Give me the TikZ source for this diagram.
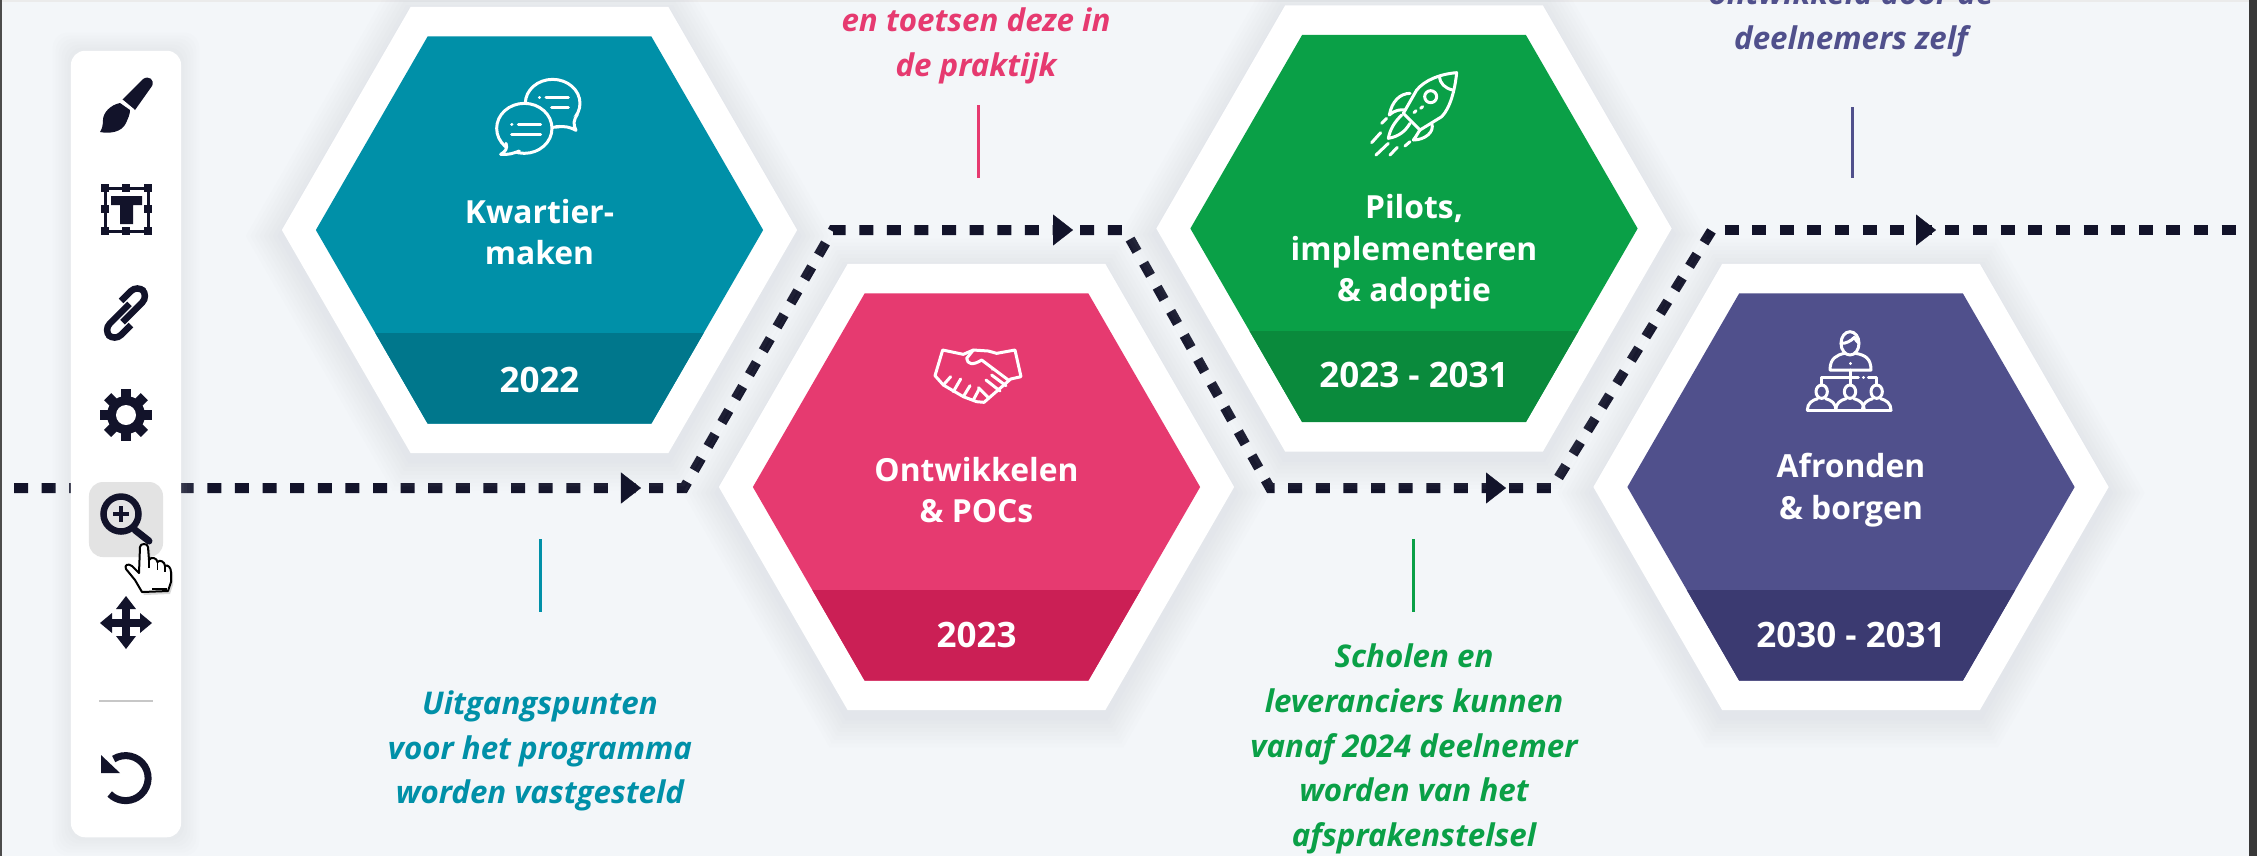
\documentclass[tikz,border=0pt]{standalone}
\usepackage{fontspec}
\setmainfont{Open Sans}
\usetikzlibrary{positioning, shapes.geometric, arrows.meta, shadows}

\definecolor{pagebg}{HTML}{F3F6F9}
\definecolor{glowgray}{HTML}{C4C9D1}
\definecolor{inkdark}{HTML}{12132A}
\definecolor{tealmain}{HTML}{0090A8}
\definecolor{tealband}{HTML}{00778C}
\definecolor{pinkmain}{HTML}{E63A70}
\definecolor{pinkband}{HTML}{CB1F55}
\definecolor{greenmain}{HTML}{0AA047}
\definecolor{greenband}{HTML}{0A8A3C}
\definecolor{purplemain}{HTML}{50508C}
\definecolor{purpleband}{HTML}{3B3A71}

\tikzset{
    hexbase/.style={regular polygon, regular polygon sides=6, inner sep=0pt, outer sep=0pt},
    hexouter/.style={hexbase, minimum size=5.15cm, fill=white},
    hexglow/.style={hexbase, fill=glowgray, fill opacity=0.035},
    hexinner/.style 2 args={hexbase, minimum size=4.47cm, fill=#1,
        path picture={\fill[#2] (path picture bounding box.south west) rectangle ([yshift=0.91cm]path picture bounding box.south east);}},
    hexlabel/.style={text=white, align=center, font=\bfseries\fontsize{9.05}{11.8}\selectfont},
    yearlabel/.style={text=white, font=\bfseries\fontsize{9.95}{11.8}\selectfont},
    caption/.style={text=#1, align=center, font=\bfseries\itshape\fontsize{8.9}{12.7}\selectfont},
    tickline/.style={draw=#1, line width=0.03cm},
    timeline/.style={draw=inkdark, line width=0.1cm, dash pattern=on 0.14cm off 0.136cm},
    tiphead/.style={-{Triangle[length=0.2cm,width=0.31cm]}, draw=inkdark, fill=inkdark, line width=0.1pt},
    toolicon/.style={fill=inkdark, draw=none},
    toolline/.style={draw=inkdark, line width=0.065cm},
    iconline/.style={draw=white, line width=0.03cm, line cap=round, line join=round},
}

\newcommand{\hexshadow}[2]{
    \foreach \s in {1,...,8} {
        \node[hexglow, minimum size={5.15cm+\s*0.09cm}] (glow#1\s) at ([yshift=-0.06cm]#2) {};
    }
}

\begin{document}
\begin{tikzpicture}[x=0.01cm, y=-0.01cm]
    \useasboundingbox (0,0) rectangle (2257,856);
    \clip (0,0) rectangle (2257,856);
    \fill[pagebg] (0,0) rectangle (2257,856);
    \fill[black!70] (0,0) rectangle (2,856);
    \fill[black!78] (2249,0) rectangle (2257,856);
    \fill[black!8] (2,0) rectangle (2249,2);

    \coordinate (lineA) at (14,488);
    \coordinate (lineB) at (684,488);
    \coordinate (lineC) at (833,230);
    \coordinate (lineD) at (1125,230);
    \coordinate (lineE) at (1270,488);
    \coordinate (lineF) at (1552,488);
    \coordinate (lineG) at (1712,230);
    \coordinate (lineH) at (2249,230);
    \draw[timeline] (lineA) -- (lineB) -- (lineC) -- (lineD) -- (lineE) -- (lineF) -- (lineG);
    \draw[timeline, dash phase=0.151cm] (lineG) -- (lineH);

    \hexshadow{Kwartier}{539.5,230}
    \hexshadow{Ontwikkelen}{976.5,487}
    \hexshadow{Pilots}{1414,228.5}
    \hexshadow{Afronden}{1851,487}

    \node[hexouter] (outerKwartier) at (539.5,230) {};
    \node[hexouter] (outerOntwikkelen) at (976.5,487) {};
    \node[hexouter] (outerPilots) at (1414,228.5) {};
    \node[hexouter] (outerAfronden) at (1851,487) {};

    \node[hexinner={tealmain}{tealband}] (hexKwartier) at (539.5,230) {};
    \node[hexinner={pinkmain}{pinkband}] (hexOntwikkelen) at (976.5,487) {};
    \node[hexinner={greenmain}{greenband}] (hexPilots) at (1414,228.5) {};
    \node[hexinner={purplemain}{purpleband}] (hexAfronden) at (1851,487) {};

    \node[hexlabel] (labelKwartier) at (539.5,232) {Kwartier-\\maken};
    \node[hexlabel] (labelOntwikkelen) at (976.5,490) {Ontwikkelen\\\& POCs};
    \node[hexlabel] (labelPilots) at (1414,252) {Pilots,\\implementeren\\\& adoptie};
    \node[hexlabel] (labelAfronden) at (1851,490) {Afronden\\\& borgen};

    \node[yearlabel] (yearKwartier) at (539.5,380) {2022};
    \node[yearlabel] (yearOntwikkelen) at (976.5,635) {2023};
    \node[yearlabel] (yearPilots) at (1414,375) {2023 - 2031};
    \node[yearlabel] (yearAfronden) at (1851,635) {2030 - 2031};

    \coordinate (tickAtop) at (540,539);
    \coordinate (tickAbot) at (540,612);
    \coordinate (tickBtop) at (978,105);
    \coordinate (tickBbot) at (978,178);
    \coordinate (tickCtop) at (1413,539);
    \coordinate (tickCbot) at (1413,612);
    \coordinate (tickDtop) at (1852,107);
    \coordinate (tickDbot) at (1852,178);
    \draw[tickline=tealmain] (tickAtop) -- (tickAbot);
    \draw[tickline=pinkmain] (tickBtop) -- (tickBbot);
    \draw[tickline=greenmain] (tickCtop) -- (tickCbot);
    \draw[tickline=purplemain] (tickDtop) -- (tickDbot);

    \node[caption=tealmain] (textKwartier) at (540,751) {Uitgangspunten\\voor het programma\\worden vastgesteld};
    \node[caption=pinkmain] (textOntwikkelen) at (976,46) {en toetsen deze in\\de praktijk};
    \node[caption=greenmain] (textPilots) at (1414,749) {Scholen en\\leveranciers kunnen\\vanaf 2024 deelnemer\\worden van het\\afsprakenstelsel};
    \node[caption=purplemain] (textAfronden) at (1851,19) {ontwikkeld door de\\deelnemers zelf};

    \coordinate (tipAa) at (621,488);
    \coordinate (tipAb) at (641,488);
    \coordinate (tipBa) at (1053,230);
    \coordinate (tipBb) at (1073,230);
    \coordinate (tipCa) at (1486,488);
    \coordinate (tipCb) at (1506,488);
    \coordinate (tipDa) at (1916,230);
    \coordinate (tipDb) at (1936,230);
    \draw[tiphead] (tipAa) -- (tipAb);
    \draw[tiphead] (tipBa) -- (tipBb);
    \draw[tiphead] (tipCa) -- (tipCb);
    \draw[tiphead] (tipDa) -- (tipDb);

    \begin{scope}[shift={(480,65)}, scale=0.3333]
        \draw[iconline] (218,115) ellipse [x radius=82, y radius=72];
        \draw[iconline, fill=tealmain] (228,185) .. controls (255,183) and (270,186) .. (288,196) .. controls (278,178) and (282,163) .. (292,148);
        \draw[iconline, fill=tealmain] (133,190) ellipse [x radius=83, y radius=75];
        \draw[iconline, fill=tealmain] (78,235) .. controls (84,250) and (76,260) .. (62,268) .. controls (85,270) and (100,265) .. (118,258);
        \draw[iconline] (95,178) -- (96,178) (115,178) -- (182,178) (95,207) -- (182,207);
        \draw[iconline] (178,97) -- (179,97) (198,97) -- (265,97) (215,127) -- (265,127);
    \end{scope}

    \begin{scope}[shift={(920,335)}, scale=0.3333]
        \draw[iconline] (68,45) -- (130,58) -- (160,45) -- (205,48) -- (230,55) -- (285,45) -- (303,125) -- (272,132) -- (192,202) -- (170,200) -- (130,185) -- (70,150) -- (45,122) -- cycle;
        \draw[iconline] (160,45) -- (140,70) .. controls (142,88) and (158,92) .. (185,75) -- (265,135);
        \draw[iconline] (70,150) -- (92,125) (100,170) -- (122,132) (130,185) -- (150,152) (160,195) -- (176,165);
        \draw[iconline] (175,158) -- (205,188) (198,135) -- (240,168) (215,120) -- (258,152);
        \draw[iconline] (217,102) -- (218,103);
    \end{scope}

    \begin{scope}[shift={(1360,60)}, scale=0.3333]
        \draw[iconline] (290,38) .. controls (240,42) and (195,60) .. (170,90) -- (130,160) -- (180,210) -- (245,170) .. controls (270,145) and (285,90) .. (290,38) -- cycle;
        \draw[iconline] (238,50) .. controls (240,70) and (255,85) .. (278,90);
        \draw[iconline] (212,110) circle [radius=18];
        \draw[iconline] (162,158) -- (168,152) (182,145) -- (188,140);
        \draw[iconline] (150,100) .. controls (120,100) and (95,125) .. (88,165) .. controls (105,150) and (120,148) .. (135,150);
        \draw[iconline] (215,190) .. controls (225,215) and (195,240) .. (160,240) .. controls (172,225) and (175,215) .. (180,210);
        \draw[iconline] (125,165) .. controls (100,190) and (90,210) .. (85,235) .. controls (115,230) and (135,215) .. (150,190);
        \draw[iconline] (65,190) -- (80,175) (35,248) -- (62,218) (48,285) -- (85,250) (90,285) -- (112,262) (135,258) -- (150,245);
    \end{scope}

    \begin{scope}[shift={(1795,320)}, scale=0.3333]
        \draw[iconline] (165,70) ellipse [x radius=27, y radius=35];
        \draw[iconline] (138,70) .. controls (150,72) and (170,62) .. (178,52) .. controls (182,60) and (186,65) .. (192,70);
        \draw[iconline] (105,150) .. controls (105,115) and (125,105) .. (148,100) (182,100) .. controls (210,105) and (228,115) .. (228,150) -- (105,150);
        \draw[iconline] (165,130) -- (165,131) (165,150) -- (165,195);
        \draw[iconline] (80,195) -- (80,172) -- (190,172) (205,172) -- (206,172) (220,172) -- (245,172) -- (245,195);
        \foreach \c in {80,165,245} {
            \draw[iconline] (\c,215) ellipse [x radius=17, y radius=20];
            \draw[iconline] (\c-43,270) .. controls (\c-43,250) and (\c-28,240) .. (\c-12,236) (\c+12,236) .. controls (\c+28,240) and (\c+43,250) .. (\c+43,270);
        }
        \draw[iconline] (37,270) -- (288,270);
    \end{scope}

    \foreach \g in {1,...,6} {
        \node[rectangle, fill=glowgray, fill opacity=0.04, inner sep=0pt, rounded corners=0.14cm,
            minimum width={1.1cm+\g*0.06cm}, minimum height={7.86cm+\g*0.06cm}] (toolglow\g) at (126,444) {};
    }
    \node[rectangle, fill=white, inner sep=0pt, rounded corners=0.14cm, minimum width=1.1cm, minimum height=7.86cm] (toolbar) at (126,444) {};
    \node[rectangle, fill=black!11, inner sep=0pt, rounded corners=0.14cm, minimum width=0.74cm, minimum height=0.75cm] (toolactive) at (126,519.5) {};

    \fill[toolicon] (122,100) -- (143,79) .. controls (149,75) and (155,80) .. (152,86) -- (135,110) -- cycle;
    \fill[toolicon] (120,103) .. controls (110,105) and (103,113) .. (103,120) .. controls (103,125) and (102,129) .. (100,132) .. controls (110,134) and (122,132) .. (126,123) .. controls (128,118) and (130,115) .. (130,110) -- cycle;
    \draw[white, line width=0.014cm] (122,100) -- (134,110);

    \draw[toolline, line width=0.03cm] (105,188) rectangle (148,231);
    \foreach \x in {105,126,148} {
        \foreach \y in {188,209,231} {
            \fill[toolicon] (\x-4,\y-4) rectangle (\x+4,\y+4);
        }
    }
    \fill[white] (110,193) rectangle (143,226);
    \fill[toolicon] (111,196) rectangle (142,205) (120,205) rectangle (133,224);

    \begin{scope}[shift={(126,313)}, rotate=45]
        \draw[toolline, rounded corners=0.09cm] (-9,4) -- (28,4) -- (28,-12) -- (5,-12);
        \draw[toolline, rounded corners=0.09cm] (9,-4) -- (-28,-4) -- (-28,12) -- (-5,12);
    \end{scope}

    \fill[toolicon] (126,415) circle [radius=19];
    \foreach \a in {0,45,...,315} {
        \fill[toolicon, rotate around={\a:(126,415)}] (121,389) rectangle (131,400);
    }
    \fill[white] (126,415) circle [radius=10];

    \draw[toolline] (121,514) circle [radius=17.5];
    \draw[toolline, line width=0.035cm] (113,514) -- (129,514) (121,506) -- (121,522);
    \draw[toolline, line width=0.07cm, line cap=round] (135,530) -- (149,541);

    \draw[fill=white, draw=black, line width=0.02cm, line join=round, drop shadow={shadow xshift=0.02cm, shadow yshift=-0.03cm, opacity=0.3}] (140,547) .. controls (140,543) and (148,543) .. (148,547) -- (149,560) .. controls (151,556) and (157,558) .. (157.5,562) .. controls (160,559) and (165,562) .. (165,566) .. controls (168,564) and (171,568) .. (171,572) -- (171,582) -- (168,591) -- (142,592) -- (135,580) -- (126,569) .. controls (124,565) and (128,563) .. (132,566) -- (139,573) -- cycle;
    \draw[black, line width=0.015cm] (149,560) -- (149,568) (157.5,562) -- (157.5,570) (165,566) -- (165,572);
    \draw[black, line width=0.02cm] (152,589) -- (167,589);

    \draw[toolline, line width=0.075cm] (126,606) -- (126,640) (108,623) -- (144,623);
    \fill[toolicon] (126,596) -- (136,609) -- (116,609) -- cycle;
    \fill[toolicon] (126,649) -- (136,636) -- (116,636) -- cycle;
    \fill[toolicon] (100,623) -- (112,613) -- (112,633) -- cycle;
    \fill[toolicon] (152,623) -- (140,613) -- (140,633) -- cycle;

    \draw[black!22, line width=0.02cm] (99,701) -- (153,701);

    \draw[toolline, line width=0.07cm] (113.7,759) arc [start angle=-122, end angle=135, radius=22.5];
    \fill[toolicon] (101,755) -- (101,773) -- (120,773) -- cycle;
\end{tikzpicture}
\end{document}
